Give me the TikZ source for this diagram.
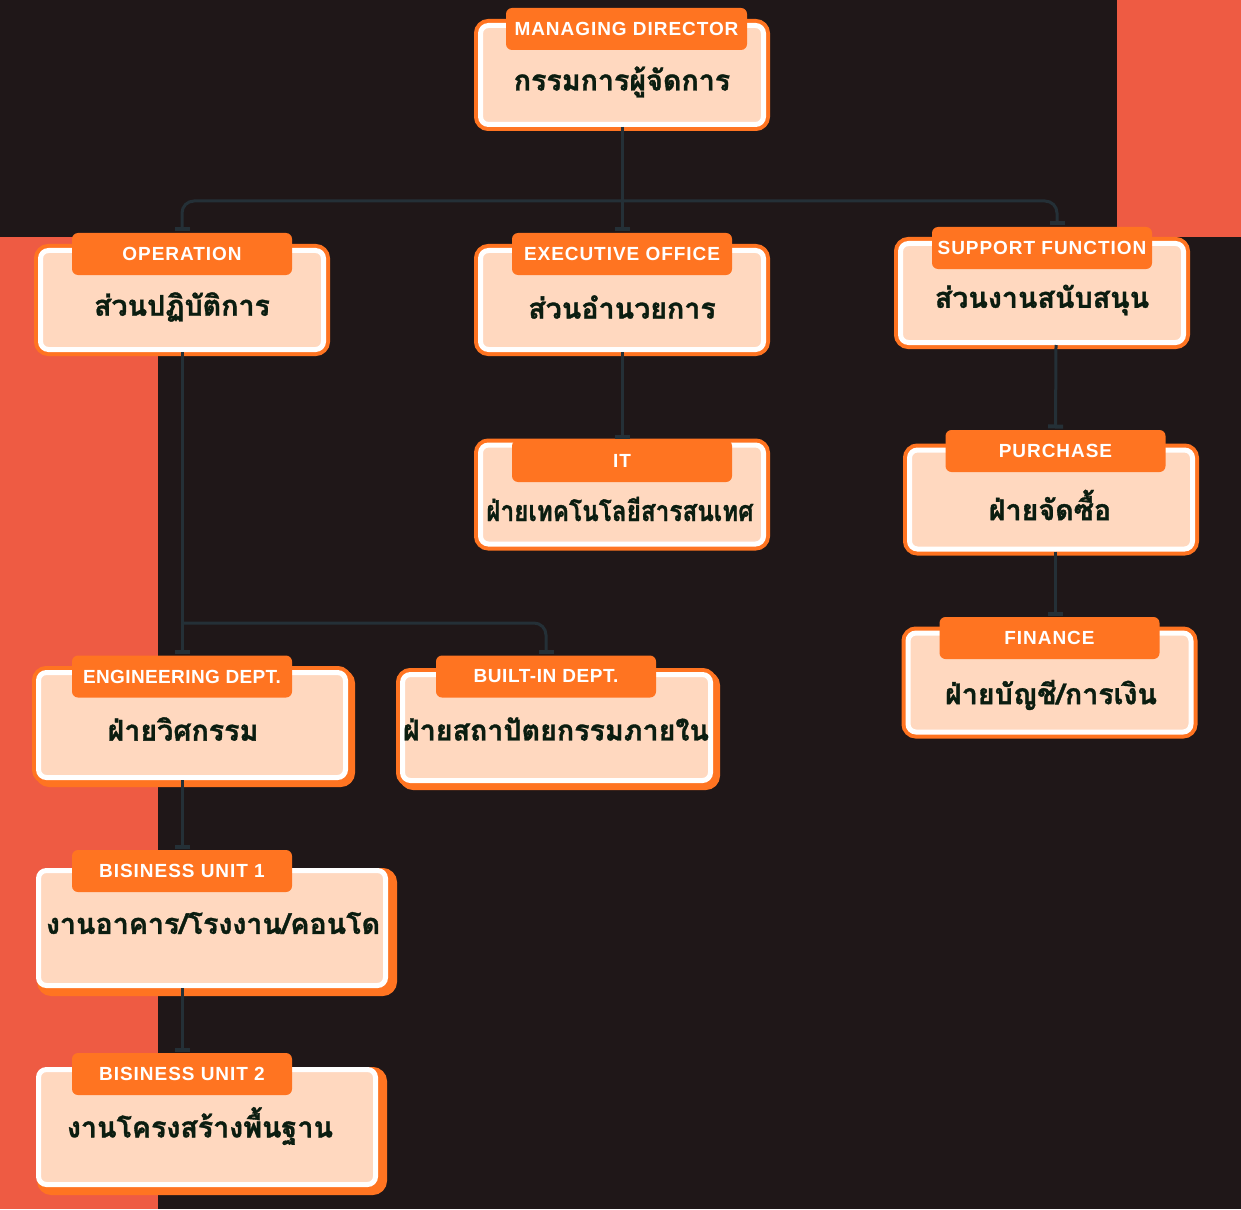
\documentclass[tikz,border=0pt]{standalone}
\usepackage{fontspec}
\usepackage{tikz}
\usetikzlibrary{arrows.meta,shadows}
\setmainfont{Liberation Sans}
\newfontfamily\thaifont[Script=Thai,BoldFeatures={FakeBold=1.2}]{Loma}
\newfontfamily\tabfont[LetterSpace=5]{Liberation Sans}
\definecolor{bgdark}{HTML}{1F1718}
\definecolor{redblock}{HTML}{EE5B43}
\definecolor{orangetab}{HTML}{FF7421}
\definecolor{peach}{HTML}{FFD8BF}
\definecolor{thaitext}{HTML}{0B1D10}
\definecolor{linkline}{HTML}{243037}

\begin{document}
\begin{tikzpicture}[x=0.5pt,y=-0.5pt,line width=1.5pt]
	\tikzstyle{box}=[draw=white,line width=2.5pt,fill=peach,rounded corners=4pt,inner sep=0pt,
		minimum width=141.5pt,minimum height=49.5pt,preaction={draw=orangetab,line width=6.5pt}]
	\tikzstyle{shbox}=[box,general shadow={fill=orangetab,draw=orangetab,line width=6.5pt,
		shadow xshift=1.5pt,shadow yshift=-1.5pt}]
	\tikzstyle{flatbox}=[draw=white,line width=2.5pt,fill=peach,rounded corners=4pt,inner sep=0pt,
		general shadow={fill=orangetab,draw=orangetab,line width=6.5pt,shadow xshift=2.5pt,shadow yshift=-2pt}]
	\tikzstyle{tab}=[fill=orangetab,rounded corners=3pt,minimum width=110pt,minimum height=21pt,
		inner sep=0pt,text=white,font=\tabfont\bfseries\fontsize{9.5}{11}\selectfont]
	\tikzstyle{thai}=[text=thaitext,inner sep=0pt,font=\thaifont\bfseries\fontsize{14.3}{17}\selectfont]
	\tikzstyle{link}=[draw=linkline,line width=1.5pt,-{Rectangle[length=2pt,width=7.5pt]}]

	\fill[bgdark] (0,0) rectangle (1241,1209);
	\fill[redblock] (0,237) rectangle (158,1209);
	\fill[redblock] (1117,0) rectangle (1241,237);

	\node[box]    (md)  at (622,75)     {};
	\node[box]    (op)  at (182,300)    {};
	\node[box]    (ex)  at (622,300)    {};
	\node[box]    (su)  at (1042,293)   {};
	\node[box]    (it)  at (622,494.5)  {};
	\node[box]    (pu)  at (1051,499.5) {};
	\node[box]    (fi)  at (1049.5,682.5) {};
	\node[shbox,minimum width=153.5pt,minimum height=52.5pt] (eng) at (192,725) {};
	\node[shbox,minimum width=154pt,minimum height=53pt]     (bi)  at (556.5,727.5) {};
	\node[flatbox,minimum width=173.5pt,minimum height=57.5pt] (bu1) at (212,928) {};
	\node[flatbox,minimum width=168.5pt,minimum height=57.5pt] (bu2) at (207,1127) {};

	\node[tab,minimum width=120.5pt] (mdtab) at (626.5,29) {MANAGING DIRECTOR};
	\node[tab] (optab)  at (182,254)    {OPERATION};
	\node[tab] (extab)  at (622,254)    {EXECUTIVE OFFICE};
	\node[tab] (sutab)  at (1042,248)   {SUPPORT FUNCTION};
	\node[tab] (ittab)  at (622,461)    {IT};
	\node[tab] (putab)  at (1055.5,451) {PURCHASE};
	\node[tab] (fitab)  at (1049.5,638) {FINANCE};
	\node[tab] (engtab) at (182,676.5)  {\addfontfeature{LetterSpace=2}ENGINEERING DEPT.};
	\node[tab] (bitab)  at (546,676.5)  {\addfontfeature{LetterSpace=3}BUILT-IN DEPT.};
	\node[tab] (bu1tab) at (182,871)    {BISINESS UNIT 1};
	\node[tab] (bu2tab) at (182,1074)   {BISINESS UNIT 2};

	\node[thai] (mdtxt)  at (622,82)   {กรรมการผู้จัดการ};
	\node[thai] (optxt)  at (182,307)  {ส่วนปฏิบัติการ};
	\node[thai] (extxt)  at (622,307)  {ส่วนอำนวยการ};
	\node[thai] (sutxt)  at (1042,300) {ส่วนงานสนับสนุน};
	\node[thai,transform shape,xscale=0.85] (ittxt) at (620,509) {ฝ่ายเทคโนโลยีสารสนเทศ};
	\node[thai] (putxt)  at (1050,505) {ฝ่ายจัดซื้อ};
	\node[thai] (fitxt)  at (1051,695) {ฝ่ายบัญชี/การเงิน};
	\node[thai] (engtxt) at (183,729)  {ฝ่ายวิศกรรม};
	\node[thai] (bitxt)  at (556,729)  {ฝ่ายสถาปัตยกรรมภายใน};
	\node[thai] (bu1txt) at (213,923)  {งานอาคาร/โรงงาน/คอนโด};
	\node[thai] (bu2txt) at (200,1126) {งานโครงสร้างพื้นฐาน};

	\coordinate (mdjoin) at (622,201);
	\coordinate (opjoin) at (182,623);

	\draw[link] (md.south) -- (extab.north);
	\draw[link,rounded corners=6pt] (mdjoin) -| (optab.north);
	\draw[link,rounded corners=6pt] (mdjoin) -| ([xshift=7.5pt]sutab.north);
	\draw[link] (ex.south) -- (ittab.north);
	\draw[link] ([xshift=7pt]su.south) -- (putab.north);
	\draw[link] (putab.north |- pu.south) -- (putab.north |- fitab.north);
	\draw[link] (op.south) -- (engtab.north);
	\draw[link,rounded corners=6pt] (opjoin) -| (bitab.north);
	\draw[link] (bu1tab.north |- eng.south) -- (bu1tab.north);
	\draw[link] (bu2tab.north |- bu1.south) -- (bu2tab.north);
\end{tikzpicture}
\end{document}
